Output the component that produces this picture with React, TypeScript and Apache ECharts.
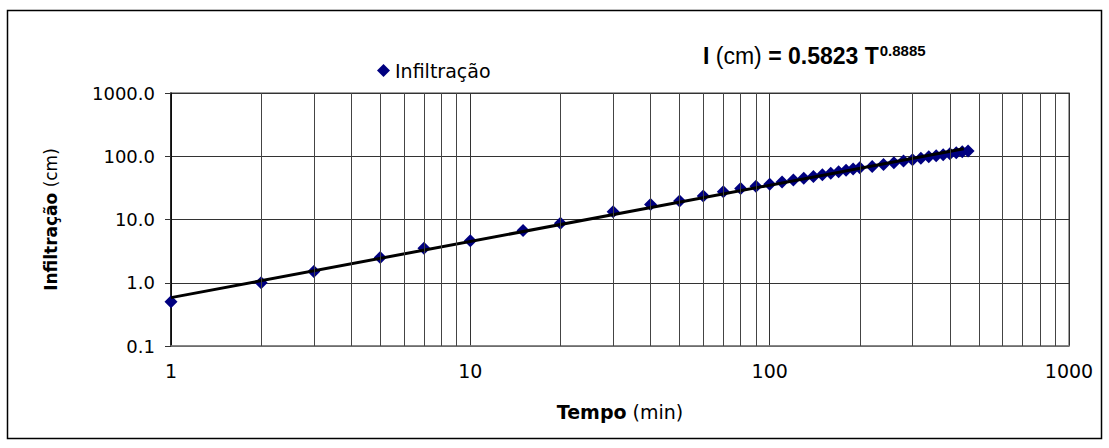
import React, { useEffect, useRef } from 'react';
import * as echarts from 'echarts';

const times = [1, 2, 3, 5, 7, 10, 15, 20, 30, 40, 50, 60, 70, 80, 90, 100, 110, 120, 130, 140, 150, 160, 170, 180, 190, 200, 220, 240, 260, 280, 300, 320, 340, 360, 380, 400, 420, 440, 460];
const infiltration = [0.5, 1.0, 1.5, 2.5, 3.5, 4.6, 6.7, 8.7, 13.2, 17.2, 19.6, 23.5, 27.5, 31, 33.5, 36, 39, 42, 45, 48, 51, 54, 57, 60, 63, 66, 69, 74, 79, 84, 88, 93, 98, 102, 106, 110, 114, 118, 121];

const trendTimes = [1, 445];
const trendValues = [0.5823, 131];

const minorGridTimes = [2, 3, 4, 5, 6, 7, 8, 9, 20, 30, 40, 50, 60, 70, 80, 90, 200, 300, 400, 500, 600, 700, 800, 900];

const seriesName = 'Infiltração';
const equation = { coef: '0.5823', exp: '0.8885' };

export default function App() {
  const ref = useRef<HTMLDivElement>(null);
  useEffect(() => {
    if (!ref.current) return;
    const chart = echarts.init(ref.current, undefined, { renderer: 'svg' });
    const font = 'DejaVu Sans';
    chart.setOption({
      animation: false,
      backgroundColor: '#ffffff',
      textStyle: { fontFamily: font },
      grid: {
        left: 171,
        right: 40,
        top: 93,
        bottom: 102,
        show: true,
        borderColor: '#808080',
        borderWidth: 1.5,
        containLabel: false,
      },
      legend: {
        data: [seriesName],
        left: 372,
        top: 56,
        icon: 'diamond',
        itemWidth: 13,
        itemHeight: 13,
        itemGap: 6,
        textStyle: { fontFamily: font, fontSize: 19, color: '#000' },
      },
      xAxis: {
        type: 'log',
        logBase: 10,
        min: 1,
        max: 1000,
        name: '{b|Tempo} (min)',
        nameLocation: 'middle',
        nameGap: 56,
        nameTextStyle: {
          fontFamily: font,
          fontSize: 19,
          color: '#000',
          rich: { b: { fontFamily: font, fontSize: 19, fontWeight: 'bold', color: '#000' } },
        },
        axisLine: { show: true, lineStyle: { color: '#808080', width: 1.5 } },
        axisTick: { show: false },
        axisLabel: {
          fontFamily: font,
          fontSize: 19,
          color: '#000',
          margin: 15,
          formatter: (v: number) => String(Math.round(Number(v))),
        },
        splitLine: { show: true, lineStyle: { color: '#333', width: 1 } },
      },
      yAxis: {
        type: 'log',
        logBase: 10,
        min: 0.1,
        max: 1000,
        name: '{b|Infiltração} (cm)',
        nameLocation: 'middle',
        nameRotate: 90,
        nameGap: 112,
        nameTextStyle: {
          fontFamily: font,
          fontSize: 17,
          color: '#000',
          rich: { b: { fontFamily: font, fontSize: 17, fontWeight: 'bold', color: '#000' } },
        },
        axisLine: { show: true, lineStyle: { color: '#000', width: 1.5 } },
        axisTick: { show: true, inside: false, length: 6, lineStyle: { color: '#333', width: 1 } },
        axisLabel: {
          fontFamily: font,
          fontSize: 18,
          color: '#000',
          margin: 16,
          formatter: (v: number) => Number(v).toFixed(1),
        },
        splitLine: { show: true, lineStyle: { color: '#333', width: 1 } },
      },
      series: [
        {
          name: 'grid',
          type: 'line',
          data: [],
          z: 1,
          silent: true,
          markLine: {
            silent: true,
            symbol: 'none',
            label: { show: false },
            lineStyle: { color: '#444', width: 1, type: 'solid' },
            data: minorGridTimes.map((t) => ({ xAxis: t })),
          },
        },
        {
          name: seriesName,
          type: 'scatter',
          symbol: 'diamond',
          symbolSize: 13,
          itemStyle: { color: '#000080', opacity: 1 },
          z: 3,
          data: times.map((t, i) => [t, infiltration[i]]),
        },
        {
          name: 'trend',
          type: 'line',
          showSymbol: false,
          symbol: 'none',
          lineStyle: { color: '#000', width: 3 },
          z: 4,
          data: trendTimes.map((t, i) => [t, trendValues[i]]),
        },
      ],
      graphic: [
        {
          type: 'rect',
          shape: { x: 7.5, y: 10.5, width: 1094, height: 428 },
          style: { fill: 'none', stroke: '#000', lineWidth: 1.5 },
          z: 0,
          silent: true,
        },
        {
          type: 'text',
          left: 703,
          top: 43,
          style: {
            text: `{b|I} (cm) {b|= ${equation.coef} T}{s|${equation.exp}}`,
            fontFamily: 'Liberation Sans',
            fontSize: 23,
            fill: '#000',
            rich: {
              b: { fontFamily: 'Liberation Sans', fontSize: 23, fontWeight: 'bold', fill: '#000' },
              s: { fontFamily: 'Liberation Sans', fontSize: 15, fontWeight: 'bold', fill: '#000', padding: [0, 0, 10, 1] },
            },
          },
        },
      ],
    });
    return () => chart.dispose();
  }, []);
  return (
    <div
      ref={ref}
      style={{ position: 'absolute', left: 0, top: 0, width: 1109, height: 448, background: '#fff' }}
    />
  );
}
